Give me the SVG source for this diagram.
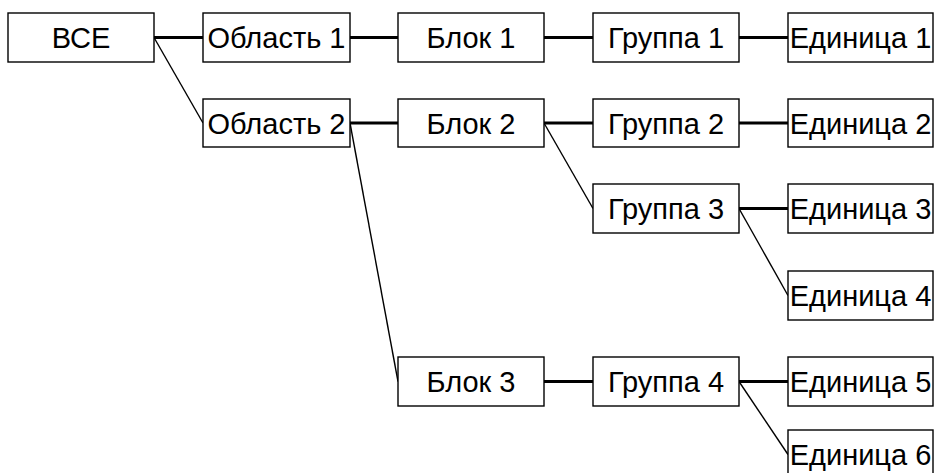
<svg xmlns="http://www.w3.org/2000/svg" width="935" height="473" viewBox="0 0 935 473">
<style>
rect{fill:#fff;stroke:#000;stroke-width:1.4}
text{font-family:"Liberation Sans",Arial,sans-serif;font-size:29px;fill:#000;text-anchor:middle}
.t{stroke:#000;stroke-width:2.8;fill:none}
.d{stroke:#000;stroke-width:1.4;fill:none}
</style>
<rect x="0" y="0" width="935" height="473" style="stroke:none"/>
<g id="connectors">
<line class="t" x1="154" y1="37.5" x2="203" y2="37.5"/>
<line class="d" x1="154" y1="37.5" x2="203" y2="123"/>
<line class="t" x1="350" y1="37.5" x2="398" y2="37.5"/>
<line class="t" x1="544" y1="37.5" x2="593" y2="37.5"/>
<line class="t" x1="739" y1="37.5" x2="788" y2="37.5"/>
<line class="t" x1="350" y1="123" x2="398" y2="123"/>
<line class="d" x1="350" y1="123" x2="398" y2="381.5"/>
<line class="t" x1="544" y1="123" x2="593" y2="123"/>
<line class="d" x1="544" y1="123" x2="593" y2="208.5"/>
<line class="t" x1="739" y1="123" x2="788" y2="123"/>
<line class="t" x1="739" y1="208.5" x2="788" y2="208.5"/>
<line class="d" x1="739" y1="208.5" x2="788" y2="295.5"/>
<line class="t" x1="544" y1="381.5" x2="593" y2="381.5"/>
<line class="t" x1="739" y1="381.5" x2="788" y2="381.5"/>
<line class="d" x1="739" y1="381.5" x2="788" y2="454.5"/>
</g>
<g id="vse"><rect x="8" y="13" width="146" height="49"/><text x="81" y="48">ВСЕ</text></g>
<g id="oblast1"><rect x="203" y="13" width="147" height="49"/><text x="276.5" y="48">Область 1</text></g>
<g id="oblast2"><rect x="203" y="99" width="147" height="48"/><text x="276.5" y="133.5">Область 2</text></g>
<g id="blok1"><rect x="398" y="13" width="146" height="49"/><text x="471" y="48">Блок 1</text></g>
<g id="blok2"><rect x="398" y="99" width="146" height="48"/><text x="471" y="133.5">Блок 2</text></g>
<g id="blok3"><rect x="398" y="357" width="146" height="49"/><text x="471" y="392">Блок 3</text></g>
<g id="gruppa1"><rect x="593" y="13" width="146" height="49"/><text x="666" y="48">Группа 1</text></g>
<g id="gruppa2"><rect x="593" y="99" width="146" height="48"/><text x="666" y="133.5">Группа 2</text></g>
<g id="gruppa3"><rect x="593" y="184" width="146" height="49"/><text x="666" y="219">Группа 3</text></g>
<g id="gruppa4"><rect x="593" y="357" width="146" height="49"/><text x="666" y="392">Группа 4</text></g>
<g id="ed1"><rect x="788" y="13" width="145" height="49"/><text x="860.5" y="48">Единица 1</text></g>
<g id="ed2"><rect x="788" y="99" width="145" height="48"/><text x="860.5" y="133.5">Единица 2</text></g>
<g id="ed3"><rect x="788" y="184" width="145" height="49"/><text x="860.5" y="219">Единица 3</text></g>
<g id="ed4"><rect x="788" y="271" width="145" height="49"/><text x="860.5" y="306">Единица 4</text></g>
<g id="ed5"><rect x="788" y="357" width="145" height="49"/><text x="860.5" y="392">Единица 5</text></g>
<g id="ed6"><rect x="788" y="430" width="145" height="49"/><text x="860.5" y="465">Единица 6</text></g>
</svg>
